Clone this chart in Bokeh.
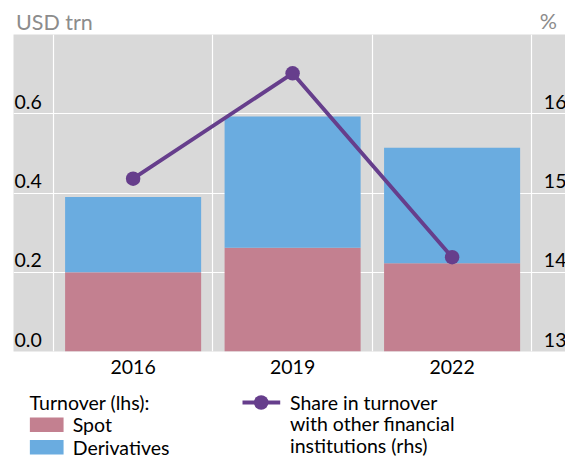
from bokeh.plotting import figure
from bokeh.layouts import column
from bokeh.models import Range1d, FixedTicker
from bokeh.core.properties import value
from bokeh.embed import file_html
from bokeh.resources import INLINE

# ---- data ----
years = ["2016", "2019", "2022"]
spot = [0.200, 0.262, 0.223]
derivatives = [0.190, 0.331, 0.291]
share = [15.18, 16.51, 14.19]
left_ticks = [0.0, 0.2, 0.4, 0.6]
right_ticks = [13, 14, 15, 16]
left_unit = "USD trn"
right_unit = "%"
legend_title = "Turnover (lhs):"
bar_labels = ["Spot", "Derivatives"]
line_label = ["Share in turnover", "with other financial", "institutions (rhs)"]

# ---- style ----
FONT = "Lato"
FS = "19.5px"
SPOT_C = "#c38090"
DER_C = "#6aace0"
LINE_C = "#663e8c"
BG = "#d9d9d9"
W = 565

xpos = list(range(len(years)))
total = [s + d for s, d in zip(spot, derivatives)]
bounds = [i - 0.5 for i in range(len(years) + 1)]

xr = Range1d(-0.75, 2.711)


def bare(fig):
    fig.outline_line_color = None
    fig.grid.visible = False
    fig.border_fill_color = "white"
    fig.background_fill_color = "white"
    return fig


# ---- header with the unit labels (y in pixels, downwards) ----
HH = 34
head = bare(figure(width=W, height=HH, output_backend="svg", toolbar_location=None,
                   x_range=xr, y_range=Range1d(HH, 0),
                   x_axis_location=None, y_axis_location=None,
                   min_border_left=13, min_border_right=0, min_border_top=0,
                   min_border_bottom=0))
head.text(x=[xr.start, bounds[-1]], y=[21.0, 20.8], text=[left_unit, right_unit],
          x_offset=[2.5, 8], text_baseline="middle", text_align="left",
          text_font=value(FONT), text_font_size="21.5px", text_color="#8c8c8c")

# ---- main chart ----
p = figure(width=W, height=349, output_backend="svg", toolbar_location=None,
           x_range=xr, y_range=Range1d(0, 0.8),
           y_axis_location=None,
           min_border_left=13, min_border_right=0, min_border_top=0,
           min_border_bottom=32)
p.extra_y_ranges = {"rhs": Range1d(13, 17)}
p.outline_line_color = None
p.background_fill_color = BG
p.border_fill_color = "white"

p.xgrid.ticker = FixedTicker(ticks=bounds)
p.ygrid.ticker = FixedTicker(ticks=left_ticks)
p.grid.grid_line_color = "white"
p.grid.grid_line_width = 1.2

ax = p.xaxis[0]
ax.ticker = FixedTicker(ticks=xpos)
ax.major_label_overrides = {i: y for i, y in zip(xpos, years)}
ax.axis_line_color = None
ax.major_tick_line_color = None
ax.minor_tick_line_color = None
ax.major_tick_out = 0
ax.major_tick_in = 0
ax.major_label_standoff = 8
ax.major_label_text_font = FONT
ax.major_label_text_font_size = FS
ax.major_label_text_color = "black"

p.vbar(x=xpos, bottom=0, top=spot, width=0.853, fill_color=SPOT_C, line_color=None)
p.vbar(x=xpos, bottom=spot, top=total, width=0.853, fill_color=DER_C, line_color=None)
p.line(xpos, share, y_range_name="rhs", line_color=LINE_C, line_width=3.9)
p.scatter(xpos, share, y_range_name="rhs", size=14.5, fill_color=LINE_C, line_color=None)

p.text(x=[xr.start] * len(left_ticks), y=left_ticks, text=[f"{t:.1f}" for t in left_ticks],
       x_offset=1, y_offset=-12, text_baseline="middle", text_align="left",
       text_font=value(FONT), text_font_size=FS, text_color="black")
p.text(x=[bounds[-1]] * len(right_ticks), y=right_ticks, text=[str(t) for t in right_ticks],
       y_range_name="rhs", x_offset=12, y_offset=-12, text_baseline="middle",
       text_align="left", text_font=value(FONT), text_font_size=FS, text_color="black")

# ---- legend (pixel-like coordinates, y downwards) ----
LH = 76
leg = bare(figure(width=W, height=LH, output_backend="svg", toolbar_location=None,
                  x_range=Range1d(0, W), y_range=Range1d(LH, 0),
                  x_axis_location=None, y_axis_location=None,
                  min_border_left=0, min_border_right=0, min_border_top=0,
                  min_border_bottom=0))
leg.rect(x=[34, 34], y=[41.2, 63.8], width=34.5, height=14.5,
         fill_color=[SPOT_C, DER_C], line_color=None)
leg.line(x=[234.4, 273], y=[19.0, 19.0], line_color=LINE_C, line_width=3.9)
leg.scatter(x=[253.5], y=[19.0], size=14.5, fill_color=LINE_C, line_color=None)
leg.text(x=[16.5, 60.6, 60.6] + [283] * len(line_label),
         y=[18.5, 41.0, 63.8, 18.6, 40.2, 61.5],
         text=[legend_title] + bar_labels + line_label,
         text_baseline="middle", text_align="left",
         text_font=value(FONT), text_font_size=FS, text_color="black")

layout = column(head, p, leg, spacing=0)
open("out.html", "w").write(file_html(layout, INLINE))
